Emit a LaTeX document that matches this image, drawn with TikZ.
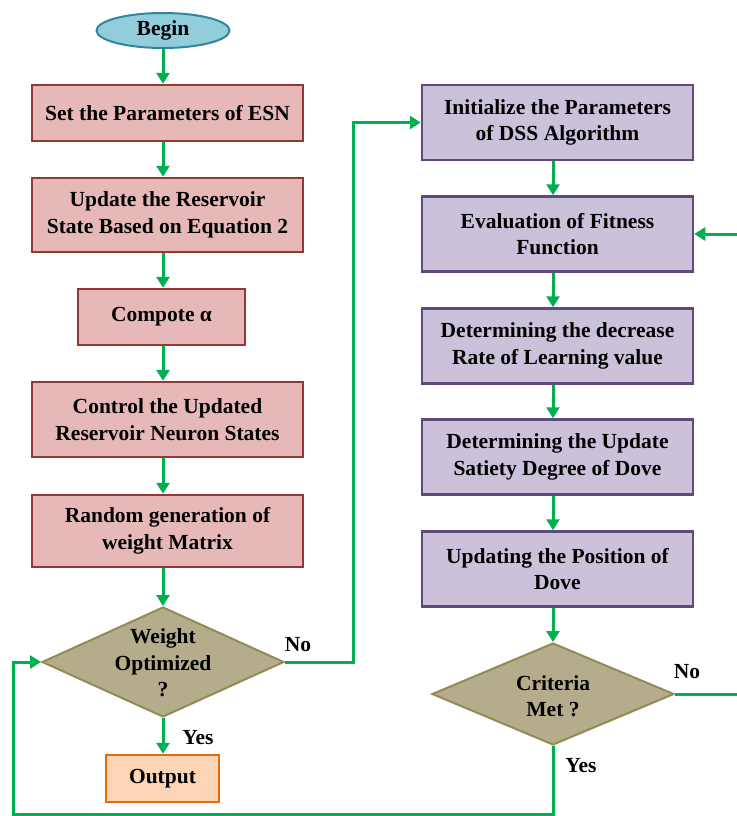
\documentclass[tikz,border=0pt]{standalone}
\usepackage{fontspec}
\setmainfont{Liberation Serif}
\usetikzlibrary{arrows.meta,shapes.geometric}
\definecolor{rfill}{HTML}{E6B9B8}
\definecolor{rdraw}{HTML}{953735}
\definecolor{pfill}{HTML}{CCC1DA}
\definecolor{pdraw}{HTML}{604A7B}
\definecolor{dfill}{HTML}{B5AC8C}
\definecolor{ddraw}{HTML}{948A54}
\definecolor{ofill}{HTML}{FBD5B5}
\definecolor{odraw}{HTML}{E46C0A}
\definecolor{bfill}{HTML}{92CDDC}
\definecolor{bdraw}{HTML}{31859C}
\definecolor{lgreen}{HTML}{00B050}
\begin{document}
\begin{tikzpicture}[x=1pt,y=-1pt,
  txt/.style={font=\bfseries\fontsize{21.5}{26.5}\selectfont, align=center},
  box/.style={txt, line width=2.5pt, inner sep=0pt},
  redbox/.style={box, fill=rfill, draw=rdraw, minimum width=271pt},
  purbox/.style={box, fill=pfill, draw=pdraw, minimum width=271pt, minimum height=75pt},
  dec/.style={diamond, fill=dfill, draw=ddraw, line width=2pt, inner sep=0pt, aspect=2.2},
  flow/.style={draw=lgreen, line width=3pt, -{Triangle[length=11pt,width=13pt]}}
]
\useasboundingbox (0,0) rectangle (736,816);
\coordinate (cx) at (163,0);
\coordinate (rx) at (553,0);

% left column
\node[ellipse, fill=bfill, draw=bdraw, line width=2pt, minimum width=133pt, minimum height=35pt, inner sep=0pt, txt] (begin) at (163,30.5) {Begin};
\node[redbox, minimum height=56pt] (s1) at (167.5,113) {Set the Parameters of ESN};
\node[redbox, minimum height=74pt] (s2) at (167.5,215) {Update the Reservoir\\State Based on Equation 2};
\node[redbox, minimum width=167pt, minimum height=56pt] (s3) at (161.5,317) {Compote α};
\node[redbox, minimum height=75pt] (s4) at (167.5,419.5) {Control the Updated\\Reservoir Neuron States};
\node[redbox, minimum height=72pt] (s5) at (167.5,531) {Random generation of\\weight Matrix};
\node[dec, minimum width=242pt, minimum height=110pt] (wo) at (163,662) {};
\node[txt] (wotxt) at (163,663) {Weight\\Optimized\\?};
\node[box, fill=ofill, draw=odraw, minimum width=113pt, minimum height=47pt] (out) at (162.5,778.5) {Output};

% right column
\node[purbox] (r1) at (557.5,122.5) {Initialize the Parameters\\of DSS Algorithm};
\node[purbox] (r2) at (557.5,234) {Evaluation of Fitness\\Function};
\node[purbox] (r3) at (557.5,346) {Determining the decrease\\Rate of Learning value};
\node[purbox] (r4) at (557.5,457) {Determining the Update\\Satiety Degree of Dove};
\node[purbox] (r5) at (557.5,569) {Updating the Position of\\Dove};
\node[dec, minimum width=242pt, minimum height=102pt] (cm) at (553,694) {};
\node[txt] (cmtxt) at (553,696) {Criteria\\Met ?};

% labels
\node[txt] (lno1) at (298,645) {No};
\node[txt] (lyes1) at (198,738) {Yes};
\node[txt] (lno2) at (687,672) {No};
\node[txt] (lyes2) at (581,766) {Yes};

% connectors left
\draw[flow] (begin.south) -- (s1.north -| cx);
\draw[flow] (s1.south -| cx) -- (s2.north -| cx);
\draw[flow] (s2.south -| cx) -- (s3.north -| cx);
\draw[flow] (s3.south -| cx) -- (s4.north -| cx);
\draw[flow] (s4.south -| cx) -- (s5.north -| cx);
\draw[flow] (s5.south -| cx) -- (wo.north);
\draw[flow] (wo.south) -- (out.north -| cx);

% No -> right column
\coordinate (jx) at (353,400);
\draw[flow] (wo.east) -| (jx) |- (r1.west);

% connectors right
\draw[flow] (r1.south -| rx) -- (r2.north -| rx);
\draw[flow] (r2.south -| rx) -- (r3.north -| rx);
\draw[flow] (r3.south -| rx) -- (r4.north -| rx);
\draw[flow] (r4.south -| rx) -- (r5.north -| rx);
\draw[flow] (r5.south -| rx) -- (cm.north);

% criteria No loop (vertical part runs just outside the picture's right edge)
\coordinate (kx) at (738.5,500);
\draw[flow] (cm.east) -| (kx) |- (r2.east);

% criteria Yes loop back
\coordinate (lb) at (13,814);
\draw[flow] (cm.south) |- (lb) |- (wo.west);
\end{tikzpicture}
\end{document}
